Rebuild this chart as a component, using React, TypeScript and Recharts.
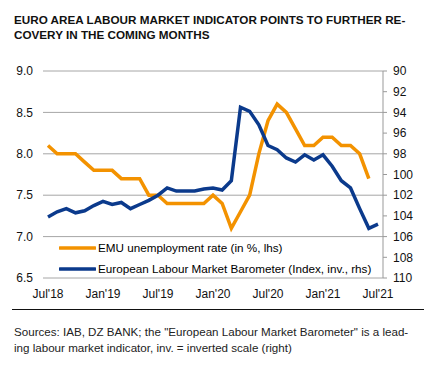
import { LineChart, Line, XAxis, YAxis, CartesianGrid, Legend } from 'recharts'

const months = [
  "Jul'18", "Aug'18", "Sep'18", "Oct'18", "Nov'18", "Dec'18",
  "Jan'19", "Feb'19", "Mar'19", "Apr'19", "May'19", "Jun'19",
  "Jul'19", "Aug'19", "Sep'19", "Oct'19", "Nov'19", "Dec'19",
  "Jan'20", "Feb'20", "Mar'20", "Apr'20", "May'20", "Jun'20",
  "Jul'20", "Aug'20", "Sep'20", "Oct'20", "Nov'20", "Dec'20",
  "Jan'21", "Feb'21", "Mar'21", "Apr'21", "May'21", "Jun'21",
  "Jul'21",
]

// EMU unemployment rate, % (left axis)
const unemployment = [
  8.1, 8.0, 8.0, 8.0, 7.9, 7.8,
  7.8, 7.8, 7.7, 7.7, 7.7, 7.5,
  7.5, 7.4, 7.4, 7.4, 7.4, 7.4,
  7.5, 7.4, 7.1, 7.3, 7.5, 8.0,
  8.4, 8.6, 8.5, 8.3, 8.1, 8.1,
  8.2, 8.2, 8.1, 8.1, 8.0, 7.7,
  null,
]

// European Labour Market Barometer, index (right axis, inverted)
const barometer = [
  104.1, 103.6, 103.3, 103.7, 103.5, 103.0,
  102.6, 102.9, 102.7, 103.3, 102.9, 102.5,
  102.0, 101.3, 101.6, 101.6, 101.6, 101.4,
  101.3, 101.5, 100.6, 93.5, 93.9, 95.2,
  97.2, 97.6, 98.4, 98.8, 98.1, 98.6,
  98.1, 99.2, 100.6, 101.3, 103.3, 105.2,
  104.8,
]

const leftTicks = [6.5, 7.0, 7.5, 8.0, 8.5, 9.0]
const rightTicks = [90, 92, 94, 96, 98, 100, 102, 104, 106, 108, 110]

const ORANGE = '#f39200'
const BLUE = '#0b3a8c'
const FONT = '"Liberation Sans", Arial, sans-serif'

const data = months.map((m, i) => ({
  month: m,
  unemployment: unemployment[i],
  barometer: barometer[i],
}))

function LegendBox({ payload }: any) {
  return (
    <div style={{ fontFamily: FONT, fontSize: 11.7, color: '#000' }}>
      {(payload || []).map((p: any) => (
        <div key={p.value} style={{ display: 'flex', alignItems: 'center', height: 21 }}>
          <svg width={37} height={6} style={{ marginRight: 2 }}>
            <line x1={1} y1={3} x2={36} y2={3} stroke={p.color} strokeWidth={3.5} strokeLinecap="round" />
          </svg>
          <span>{p.value}</span>
        </div>
      ))}
    </div>
  )
}

export default function App() {
  return (
    <div style={{ position: 'absolute', left: 0, top: 0, width: 436, height: 374, background: '#fff', fontFamily: FONT }}>
      <div style={{ position: 'absolute', left: 14, top: 12, fontSize: 11.7, fontWeight: 'bold', lineHeight: '15px', color: '#111' }}>
        EURO AREA LABOUR MARKET INDICATOR POINTS TO FURTHER RE-
        <br />
        COVERY IN THE COMING MONTHS
      </div>

      <div style={{ position: 'absolute', left: 0, top: 0 }}>
        <LineChart width={436} height={374} data={data} margin={{ top: 71, right: 0, bottom: 66, left: 0 }}>
          <CartesianGrid vertical={false} stroke="#a6a6a6" yAxisId="left" />
          <XAxis
            dataKey="month"
            interval={5}
            axisLine={false}
            tickLine={false}
            tickMargin={5}
            padding={{ left: 5, right: 5 }}
            height={30}
            tick={{ fontSize: 12, fill: '#111', fontFamily: FONT }}
          />
          <YAxis
            yAxisId="left"
            width={43}
            domain={[6.5, 9]}
            ticks={leftTicks}
            tickFormatter={(v: number) => v.toFixed(1)}
            axisLine={false}
            tickLine={false}
            tickMargin={4}
            tick={{ fontSize: 12, fill: '#111', fontFamily: FONT }}
          />
          <YAxis
            yAxisId="right"
            orientation="right"
            width={53}
            domain={[90, 110]}
            reversed
            ticks={rightTicks}
            interval={0}
            axisLine={{ stroke: '#999' }}
            tickLine={{ stroke: '#999' }}
            tickSize={4}
            tickMargin={6}
            tick={{ fontSize: 12, fill: '#111', fontFamily: FONT, textAnchor: 'start' }}
          />
          <Legend
            layout="vertical"
            verticalAlign="middle"
            align="center"
            content={<LegendBox />}
            wrapperStyle={{ position: 'absolute', left: 59, top: 237, width: 320 }}
          />
          <Line
            yAxisId="left"
            type="linear"
            dataKey="unemployment"
            name="EMU unemployment rate (in %, lhs)"
            stroke={ORANGE}
            strokeWidth={3.5}
            dot={false}
            connectNulls={false}
            isAnimationActive={false}
          />
          <Line
            yAxisId="right"
            type="linear"
            dataKey="barometer"
            name="European Labour Market Barometer (Index, inv., rhs)"
            stroke={BLUE}
            strokeWidth={3.5}
            dot={false}
            isAnimationActive={false}
          />
        </LineChart>
      </div>

      <div style={{ position: 'absolute', left: 12, top: 309, width: 412, borderTop: '1.5px solid #111' }} />

      <div style={{ position: 'absolute', left: 14, top: 324, fontSize: 11.6, lineHeight: '16px', color: '#222' }}>
        Sources: IAB, DZ BANK; the "European Labour Market Barometer" is a lead-
        <br />
        ing labour market indicator, inv. = inverted scale (right)
      </div>
    </div>
  )
}
